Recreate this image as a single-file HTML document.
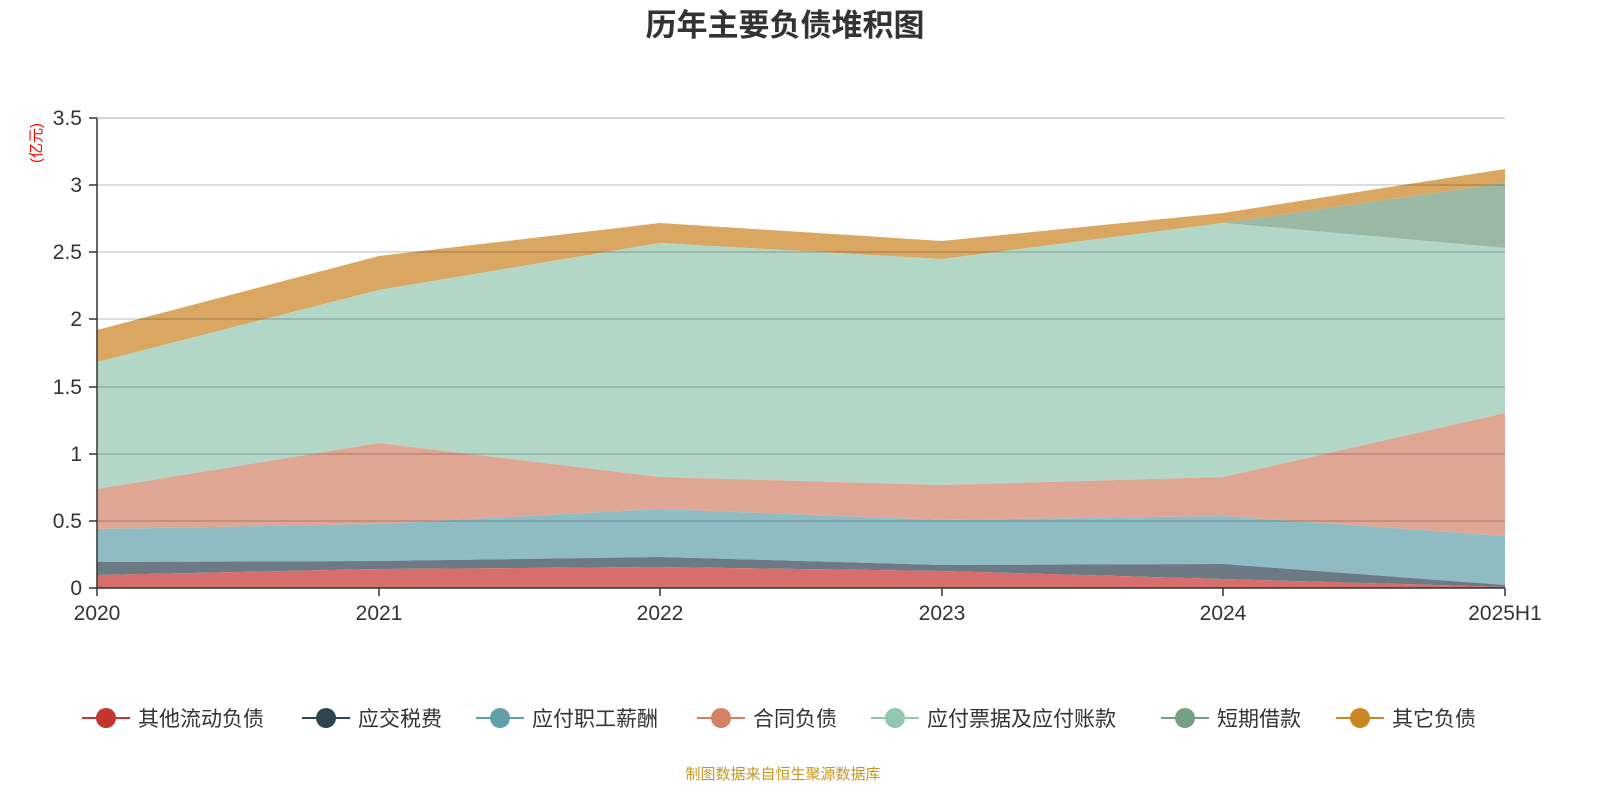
<!DOCTYPE html>
<html><head><meta charset="utf-8"><style>
html,body{margin:0;padding:0;background:#fff;overflow:hidden;width:1600px;height:800px;}
svg{display:block;font-family:"Liberation Sans","Noto Sans CJK SC",sans-serif;}
</style></head><body>
<svg width="1600" height="800" viewBox="0 0 1600 800" xmlns="http://www.w3.org/2000/svg">
<text x="785" y="36" text-anchor="middle" font-size="31" font-weight="bold" fill="#333">历年主要负债堆积图</text>
<text transform="translate(41,143) rotate(-90)" text-anchor="middle" font-size="15" fill="#f00">(亿元)</text>
<g id="areas">
<polygon fill="#d9a761" points="97,330 379,256 660,223 942,241 1223,213 1505,169 1505,183 1223,223 942,259 660,243 379,290 97,362"/>
<polygon fill="#9bb8a5" points="1223,223 1505,183 1505,248"/>
<polygon fill="#b2d7c6" points="97,362 379,290 660,243 942,259 1223,223 1505,248 1505,413 1223,477 942,485 660,477 379,443 97,489"/>
<polygon fill="#e0a694" points="97,489 379,443 660,477 942,485 1223,477 1505,413 1505,536 1223,516 942,520 660,509 379,524 97,529"/>
<polygon fill="#8fbbc3" points="97,529 379,524 660,509 942,520 1223,516 1505,536 1505,585 1223,564 942,565 660,557 379,561 97,562"/>
<polygon fill="#6c7a85" points="97,562 379,561 660,557 942,565 1223,564 1505,585 1505,587 1223,579 942,571 660,567 379,569 97,575"/>
<polygon fill="#d66e6c" points="97,575 379,569 660,567 942,571 1223,579 1505,587 1505,588 97,588"/>
</g>
<g stroke="#000" stroke-opacity="0.18" stroke-width="1.5">
<line x1="98" y1="118" x2="1505" y2="118" stroke="#ccc" stroke-opacity="1"/>
<line x1="98" y1="185" x2="1505" y2="185"/>
<line x1="98" y1="252" x2="1505" y2="252"/>
<line x1="98" y1="319" x2="1505" y2="319"/>
<line x1="98" y1="387" x2="1505" y2="387"/>
<line x1="98" y1="454" x2="1505" y2="454"/>
<line x1="98" y1="521" x2="1505" y2="521"/>
</g>
<g stroke="#333" stroke-width="1.5">
<line x1="97" y1="118" x2="97" y2="588"/>
<line x1="97" y1="588" x2="1505" y2="588"/>
<line x1="89" y1="118" x2="97" y2="118"/><line x1="89" y1="185" x2="97" y2="185"/><line x1="89" y1="252" x2="97" y2="252"/><line x1="89" y1="319" x2="97" y2="319"/><line x1="89" y1="387" x2="97" y2="387"/><line x1="89" y1="454" x2="97" y2="454"/><line x1="89" y1="521" x2="97" y2="521"/><line x1="89" y1="588" x2="97" y2="588"/>
<line x1="97" y1="588" x2="97" y2="596"/><line x1="379" y1="588" x2="379" y2="596"/><line x1="660" y1="588" x2="660" y2="596"/><line x1="942" y1="588" x2="942" y2="596"/><line x1="1223" y1="588" x2="1223" y2="596"/><line x1="1505" y1="588" x2="1505" y2="596"/>
</g>
<g font-size="21" fill="#333" text-anchor="end">
<text x="82" y="125">3.5</text><text x="82" y="192">3</text><text x="82" y="259">2.5</text><text x="82" y="326">2</text><text x="82" y="394">1.5</text><text x="82" y="461">1</text><text x="82" y="528">0.5</text><text x="82" y="595">0</text>
</g>
<g font-size="21" fill="#333" text-anchor="middle">
<text x="97" y="620">2020</text><text x="379" y="620">2021</text><text x="660" y="620">2022</text><text x="942" y="620">2023</text><text x="1223" y="620">2024</text><text x="1505" y="620">2025H1</text>
</g>
<g font-size="21" fill="#333">
<line x1="82" y1="718" x2="130" y2="718" stroke="#c23531" stroke-width="2"/><circle cx="106" cy="718" r="10" fill="#c23531"/><text x="138" y="726">其他流动负债</text>
<line x1="302" y1="718" x2="350" y2="718" stroke="#2f4554" stroke-width="2"/><circle cx="326" cy="718" r="10" fill="#2f4554"/><text x="358" y="726">应交税费</text>
<line x1="476" y1="718" x2="524" y2="718" stroke="#61a0a8" stroke-width="2"/><circle cx="500" cy="718" r="10" fill="#61a0a8"/><text x="532" y="726">应付职工薪酬</text>
<line x1="697" y1="718" x2="745" y2="718" stroke="#d48265" stroke-width="2"/><circle cx="721" cy="718" r="10" fill="#d48265"/><text x="753" y="726">合同负债</text>
<line x1="871" y1="718" x2="919" y2="718" stroke="#91c7ae" stroke-width="2"/><circle cx="895" cy="718" r="10" fill="#91c7ae"/><text x="927" y="726">应付票据及应付账款</text>
<line x1="1161" y1="718" x2="1209" y2="718" stroke="#749f83" stroke-width="2"/><circle cx="1185" cy="718" r="10" fill="#749f83"/><text x="1217" y="726">短期借款</text>
<line x1="1336" y1="718" x2="1384" y2="718" stroke="#ca8622" stroke-width="2"/><circle cx="1360" cy="718" r="10" fill="#ca8622"/><text x="1392" y="726">其它负债</text>
</g>
<text x="783" y="779" text-anchor="middle" font-size="15" fill="#c8961e">制图数据来自恒生聚源数据库</text>
</svg>
</body></html>
